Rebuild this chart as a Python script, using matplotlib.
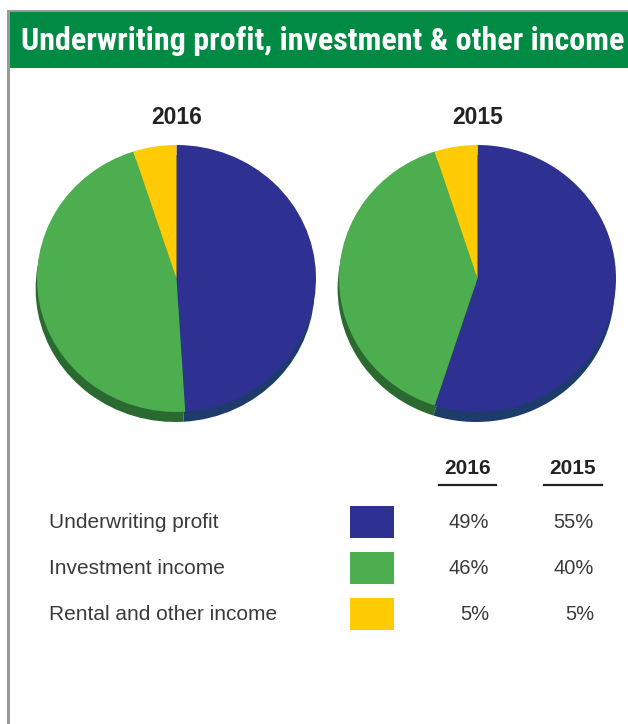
import matplotlib.pyplot as plt
from matplotlib import font_manager
from matplotlib.patches import Rectangle

# income split, percent of total
categories = ["Underwriting profit", "Investment income", "Rental and other income"]
years = ["2016", "2015"]
share_2016 = [49, 46, 5]
share_2015 = [55, 40, 5]

face_colors = ["#2E3192", "#4DAE4F", "#FFCB05"]
side_colors = ["#1D3B6B", "#2A6A31", "#B38E00"]
header_green = "#008A43"
border_grey = "#9A9A9A"
text_dark = "#3A3A3A"

W, H = 628, 724


def pick_font(names, default="DejaVu Sans"):
    available = {f.name for f in font_manager.fontManager.ttflist}
    for name in names:
        if name in available:
            return name
    return default


narrow = pick_font(["Roboto Condensed", "Liberation Sans Narrow", "Archivo Narrow",
                    "PT Sans Narrow", "Fira Sans Condensed", "IBM Plex Sans Condensed",
                    "Open Sans Condensed", "Barlow Condensed", "Pragati Narrow",
                    "Liberation Sans"])
sans = pick_font(["Liberation Sans", "Arimo", "DejaVu Sans"])


def fx(px):
    return px / W


def fy(py):
    return 1 - py / H


def draw_pie(box, values):
    # box = (left, top, right, bottom) in pixels, bottom includes the rim
    left, top, right, bottom = box
    ax = fig.add_axes([fx(left), fy(bottom), fx(right - left), (bottom - top) / H])
    # darker copy underneath gives the pie a rim
    ax.pie(values, colors=side_colors, startangle=90, counterclock=False,
           center=(-0.01, -0.075), radius=1, frame=True,
           wedgeprops=dict(linewidth=0))
    ax.pie(values, colors=face_colors, startangle=90, counterclock=False,
           center=(0, 0), radius=1, frame=True,
           wedgeprops=dict(linewidth=0))
    ax.set_aspect("auto")
    ax.set_xlim(-1, 1)
    ax.set_ylim(-1.075, 1)
    ax.axis("off")


fig = plt.figure(figsize=(W / 100, H / 100), dpi=100)
fig.patch.set_facecolor("white")

# frame and header band
fig.patches.append(Rectangle((fx(7), fy(H)), fx(3), (H - 10) / H,
                             transform=fig.transFigure, color=border_grey, lw=0))
fig.patches.append(Rectangle((fx(7), fy(12)), fx(W), 2 / H,
                             transform=fig.transFigure, color=border_grey, lw=0))
fig.patches.append(Rectangle((fx(10), fy(68)), fx(W), 56 / H,
                             transform=fig.transFigure, color=header_green, lw=0))
title = fig.text(fx(21), fy(41), "Underwriting profit, investment & other income",
                 color="white", fontsize=20, fontweight="bold", family=narrow,
                 va="center", ha="left")
# size the header text to run almost the full width of the band
renderer = fig.canvas.get_renderer()
tw = title.get_window_extent(renderer).width
title.set_fontsize(min(23.5, 20 * 600 / tw))

# pies
for cx, year in zip([177, 478], years):
    fig.text(fx(cx), fy(117), year, ha="center", va="center",
             fontsize=16.5, fontweight="bold", family=sans, color="#222222")

draw_pie((37, 145, 316, 422), share_2016)
draw_pie((339, 145, 616, 422), share_2015)

# table
col_right = [489, 594]
col_line = [(439, 496), (544, 602)]
for (x0, x1), right, year in zip(col_line, col_right, years):
    fig.text(fx((x0 + x1) / 2), fy(469), year, ha="center", va="center",
             fontsize=15, fontweight="bold", family=sans, color="#222222")
    fig.lines.append(plt.Line2D([fx(x0), fx(x1)], [fy(485), fy(485)],
                                transform=fig.transFigure, color="#222222", lw=1.6))

row_y = [522, 568, 614]
for i, (label, y) in enumerate(zip(categories, row_y)):
    fig.text(fx(49), fy(y), label, ha="left", va="center",
             fontsize=15, family=sans, color=text_dark)
    fig.patches.append(Rectangle((fx(350), fy(y + 16)), fx(44), 32 / H,
                                 transform=fig.transFigure,
                                 color=face_colors[i], lw=0))
    for right, vals in zip(col_right, [share_2016, share_2015]):
        fig.text(fx(right), fy(y), f"{vals[i]}%", ha="right", va="center",
                 fontsize=14.5, family=sans, color=text_dark)

fig.savefig("out.png", dpi=100)
plt.close(fig)
